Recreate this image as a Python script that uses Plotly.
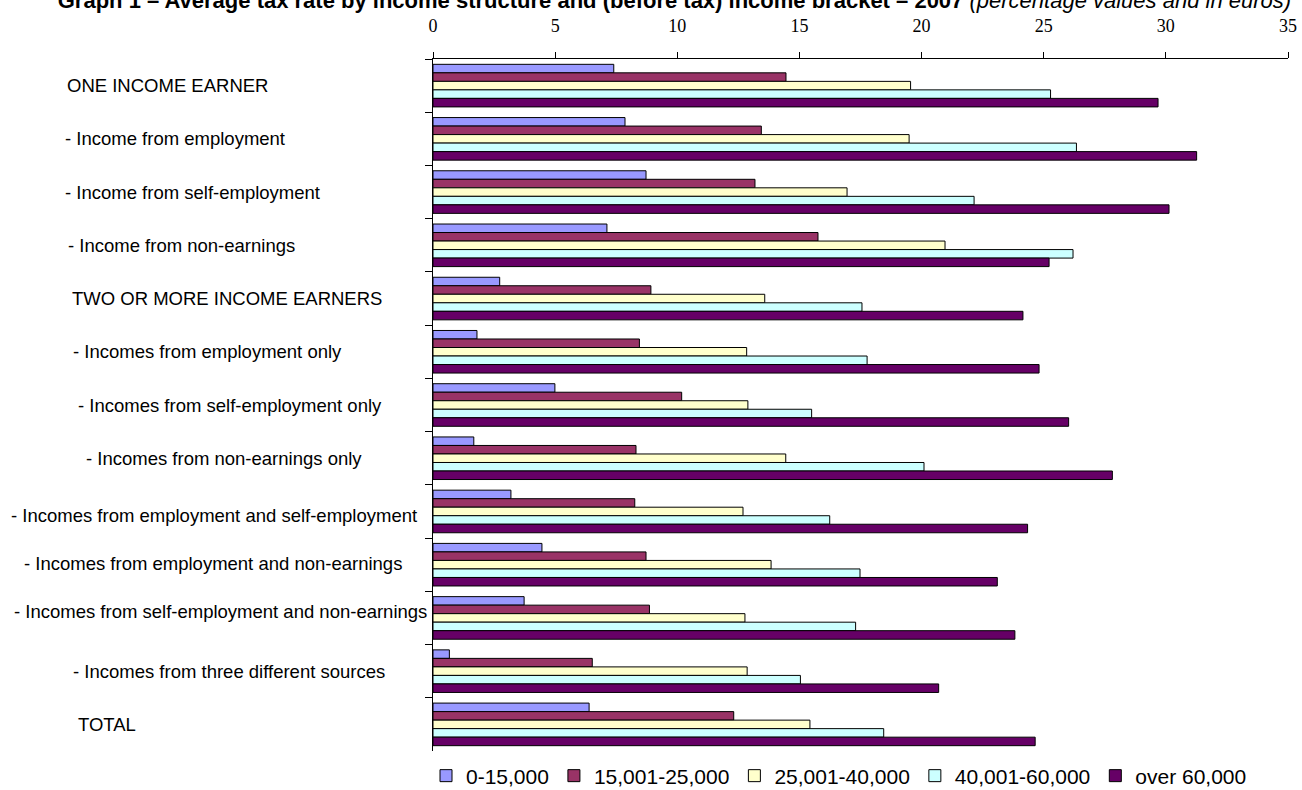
import plotly.graph_objects as go

# Household groups (top to bottom)
categories = [
    "ONE INCOME EARNER",
    "- Income from employment",
    "- Income from self-employment",
    "- Income from non-earnings",
    "TWO OR MORE INCOME EARNERS",
    "- Incomes from employment only",
    "- Incomes from self-employment only",
    "- Incomes from non-earnings only",
    "- Incomes from employment and self-employment",
    "- Incomes from employment and non-earnings",
    "- Incomes from self-employment and non-earnings",
    "- Incomes from three different sources",
    "TOTAL",
]

# Income brackets (euros)
brackets = ["0-15,000", "15,001-25,000", "25,001-40,000", "40,001-60,000", "over 60,000"]

# Average tax rate (%) per bracket, one value per household group
rate_0_15 = [7.40, 7.86, 8.72, 7.12, 2.73, 1.80, 4.99, 1.67, 3.19, 4.46, 3.73, 0.67, 6.39]
rate_15_25 = [14.45, 13.44, 13.18, 15.76, 8.92, 8.45, 10.18, 8.31, 8.26, 8.72, 8.86, 6.52, 12.31]
rate_25_40 = [19.55, 19.49, 16.95, 20.96, 13.58, 12.84, 12.89, 14.44, 12.69, 13.84, 12.77, 12.86, 15.43]
rate_40_60 = [25.28, 26.34, 22.15, 26.20, 17.56, 17.77, 15.50, 20.10, 16.24, 17.48, 17.30, 15.04, 18.45]
rate_over_60 = [29.68, 31.26, 30.13, 25.22, 24.15, 24.81, 26.02, 27.81, 24.34, 23.10, 23.82, 20.70, 24.65]

series = [rate_0_15, rate_15_25, rate_25_40, rate_40_60, rate_over_60]
colors = ["#9999FF", "#993366", "#FFFFCC", "#CCFFFF", "#660066"]

# Category label styling: left indent (px from page edge) and small vertical nudge (px, down)
label_indent = [67, 65, 65, 68, 72, 73, 78, 86, 11, 24, 14, 73, 78]
label_nudge = [0, 0, 0, 0, 0, 0, 0, 0, 4, -1, -6, 0, 0]

W, H = 1302, 790
PLOT_LEFT, PLOT_RIGHT = 433, 1288
PLOT_TOP, PLOT_BOTTOM = 59, 751
SANS = "Arial, Liberation Sans, sans-serif"
SERIF = "Times New Roman, Liberation Serif, serif"

fig = go.Figure()
for name, vals, col in zip(brackets, series, colors):
    fig.add_trace(go.Bar(
        y=categories,
        x=vals,
        orientation="h",
        name=name,
        marker=dict(color=col, line=dict(color="#000000", width=1)),
    ))

annotations = []
for cat, indent, nudge in zip(categories, label_indent, label_nudge):
    annotations.append(dict(
        xref="paper", x=0, xanchor="left", xshift=indent - PLOT_LEFT - 2,
        yref="y", y=cat, yanchor="middle", yshift=-nudge,
        text=cat, showarrow=False,
        font=dict(family=SANS, size=18.5, color="#000000"),
    ))

fig.update_layout(
    width=W,
    height=H,
    margin=dict(l=PLOT_LEFT, r=W - PLOT_RIGHT, t=PLOT_TOP, b=H - PLOT_BOTTOM),
    paper_bgcolor="#FFFFFF",
    plot_bgcolor="#FFFFFF",
    barmode="group",
    bargap=0.2,
    bargroupgap=0,
    title=dict(
        text="<b>Graph 1 – Average tax rate by income structure and (before tax) income bracket – 2007</b>"
             " <i>(percentage values and in euros)</i>",
        font=dict(family=SANS, size=22, color="#000000"),
        xref="container", x=0.518, xanchor="center",
        yref="container", y=1.0, yanchor="middle",
    ),
    xaxis=dict(
        side="top",
        range=[0, 35],
        tick0=0,
        dtick=5,
        ticks="outside",
        ticklen=6,
        tickcolor="#000000",
        showline=True,
        linecolor="#000000",
        linewidth=1,
        showgrid=False,
        zeroline=False,
        automargin=False,
        tickfont=dict(family=SERIF, size=18, color="#000000"),
        ticklabelstandoff=13,
    ),
    yaxis=dict(
        type="category",
        autorange="reversed",
        tickson="boundaries",
        ticks="outside",
        ticklen=7,
        tickcolor="#000000",
        showline=True,
        linecolor="#000000",
        linewidth=1,
        showgrid=False,
        showticklabels=False,
        automargin=False,
    ),
    legend=dict(
        orientation="h",
        xref="container",
        x=(PLOT_LEFT - 7) / W,
        xanchor="left",
        yref="container",
        y=1 - 776 / H,
        yanchor="middle",
        font=dict(family=SANS, size=21, color="#000000"),
        traceorder="normal",
        itemwidth=30,
    ),
    annotations=annotations,
)

fig.write_html("out.html")
